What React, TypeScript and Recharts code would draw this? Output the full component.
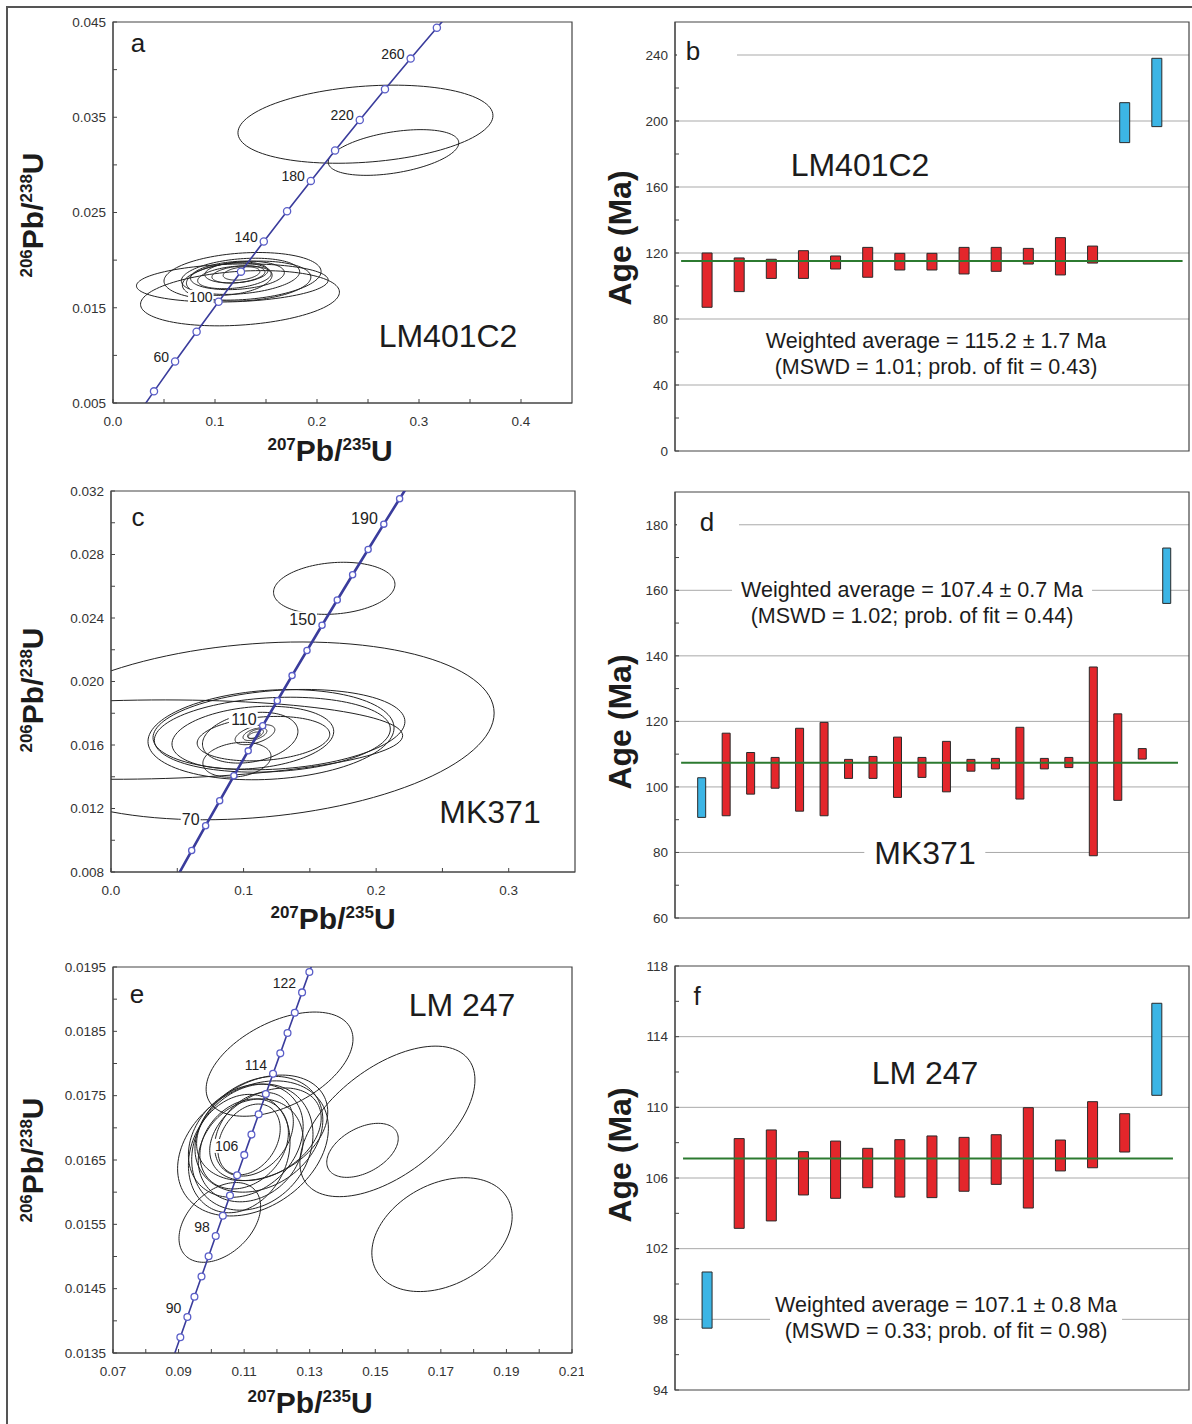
import React from "react";
import {
  Bar,
  CartesianGrid,
  Cell,
  ComposedChart,
  Line,
  ReferenceArea,
  ReferenceLine,
  Scatter,
  XAxis,
  YAxis,
} from "recharts";

const FONT = "Arial, 'Liberation Sans', Helvetica, sans-serif";
const RED = "#e3262b";
const BLUE = "#3cb5e5";
const CONCORDIA = "#3a3c9c";

// ---------- a: LM401C2 concordia (ages in Ma, ratios along the curve) ----------
const A_AGES = [20, 40, 60, 80, 100, 120, 140, 160, 180, 200, 220, 240, 260, 280, 300];
const A_X = [0.019892, 0.04018, 0.060872, 0.081975, 0.103498, 0.125449, 0.147837, 0.17067, 0.193957, 0.217708, 0.24193, 0.266636, 0.291832, 0.317529, 0.343738];
const A_Y = [0.0031073, 0.0062243, 0.009351, 0.012487, 0.015633, 0.018789, 0.021955, 0.025131, 0.028316, 0.031511, 0.034717, 0.037932, 0.041157, 0.044392, 0.047637];
const A_LABELLED = [60, 100, 140, 180, 220, 260];
const A_X_TICKS = [0, 0.05, 0.1, 0.15, 0.2, 0.25, 0.3, 0.35, 0.4];
const A_X_LABELS = [0, 0.1, 0.2, 0.3, 0.4];
const A_Y_TICKS = [0.005, 0.01, 0.015, 0.02, 0.025, 0.03, 0.035, 0.04, 0.045];
const A_Y_LABELS = [0.005, 0.015, 0.025, 0.035, 0.045];
// [x, y, half-width x, half-height y, rho]
const A_ELLIPSES: number[][] = [
  [0.2475, 0.03427, 0.125, 0.0041, 0.22],
  [0.275, 0.0313, 0.064, 0.0024, 0.42],
  [0.1245, 0.016, 0.0975, 0.0029, 0.22],
  [0.127, 0.0183, 0.077, 0.0025, 0.2],
  [0.117, 0.0176, 0.094, 0.002, 0.15],
  [0.125, 0.0183, 0.058, 0.0019, 0.25],
  [0.122, 0.0184, 0.046, 0.0015, 0.2],
  [0.119, 0.0182, 0.036, 0.0012, 0.3],
  [0.123, 0.0185, 0.026, 0.0009, 0.3],
  [0.126, 0.0186, 0.018, 0.0007, 0.3],
  [0.114, 0.018, 0.042, 0.0017, 0.25],
  [0.131, 0.0178, 0.063, 0.0021, 0.2],
  [0.121, 0.0187, 0.031, 0.0011, 0.2],
];

// ---------- b: LM401C2 ages ----------
const B_LOW = [87.1, 96.6, 104.6, 104.6, 110.3, 105.3, 109.7, 109.7, 107.3, 108.9, 113.3, 106.7, 113.9, 186.9, 196.6];
const B_HIGH = [120.0, 117.0, 116.2, 121.4, 118.2, 123.4, 119.8, 119.8, 123.4, 123.4, 122.8, 129.3, 124.2, 211.1, 238.0];
const B_REJECTED = [false, false, false, false, false, false, false, false, false, false, false, false, false, true, true];
const B_MEAN = 115.2;
const B_TICKS = [0, 20, 40, 60, 80, 100, 120, 140, 160, 180, 200, 220, 240];
const B_LABELS = [0, 40, 80, 120, 160, 200, 240];

// ---------- c: MK371 concordia ----------
const C_AGES = [50, 60, 70, 80, 90, 100, 110, 120, 130, 140, 150, 160, 170, 180, 190, 200, 210];
const C_X = [0.050475, 0.060872, 0.071371, 0.081975, 0.092683, 0.103498, 0.114419, 0.125449, 0.136588, 0.147837, 0.159197, 0.17067, 0.182256, 0.193957, 0.205774, 0.217708, 0.229759];
const C_Y = [0.0077864, 0.009351, 0.010918, 0.012487, 0.014059, 0.015633, 0.01721, 0.018789, 0.020371, 0.021955, 0.023542, 0.025131, 0.026722, 0.028316, 0.029912, 0.031511, 0.033112];
const C_LABELLED = [70, 110, 150, 190];
const C_X_TICKS = [0, 0.05, 0.1, 0.15, 0.2, 0.25, 0.3];
const C_X_LABELS = [0, 0.1, 0.2, 0.3];
const C_Y_TICKS = [0.008, 0.01, 0.012, 0.014, 0.016, 0.018, 0.02, 0.022, 0.024, 0.026, 0.028, 0.03, 0.032];
const C_Y_LABELS = [0.008, 0.012, 0.016, 0.02, 0.024, 0.028, 0.032];
const C_ELLIPSES: number[][] = [
  [0.1684, 0.02587, 0.0458, 0.00164, 0.15],
  [0.107, 0.01689, 0.182, 0.0056, 0.2],
  [0.02, 0.01634, 0.2, 0.0025, 0.1],
  [0.1207, 0.01665, 0.0928, 0.00284, 0.15],
  [0.1267, 0.01697, 0.095, 0.00253, 0.2],
  [0.1217, 0.01665, 0.089, 0.00236, 0.15],
  [0.107, 0.01646, 0.061, 0.00198, 0.2],
  [0.105, 0.01646, 0.036, 0.0016, 0.25],
  [0.095, 0.01507, 0.0257, 0.0011, 0.2],
  [0.115, 0.0164, 0.05, 0.0014, 0.2],
  [0.1086, 0.01665, 0.015, 0.00063, 0.5],
  [0.1086, 0.01668, 0.009, 0.0004, 0.5],
  [0.109, 0.0167, 0.006, 0.0003, 0.5],
  [0.108, 0.01662, 0.0045, 0.0002, 0.5],
];

// ---------- d: MK371 ages ----------
const D_LOW = [90.7, 91.2, 97.8, 99.6, 92.6, 91.2, 102.6, 102.6, 96.8, 102.9, 98.5, 104.8, 105.5, 96.3, 105.5, 105.9, 79.0, 95.9, 108.5, 156.0];
const D_HIGH = [102.8, 116.4, 110.5, 109.0, 117.9, 119.7, 108.4, 109.3, 115.2, 109.0, 113.9, 108.4, 108.7, 118.2, 108.7, 109.0, 136.6, 122.3, 111.7, 172.9];
const D_REJECTED = [true, false, false, false, false, false, false, false, false, false, false, false, false, false, false, false, false, false, false, true];
const D_MEAN = 107.4;
const D_TICKS = [60, 70, 80, 90, 100, 110, 120, 130, 140, 150, 160, 170, 180];
const D_LABELS = [60, 80, 100, 120, 140, 160, 180];

// ---------- e: LM 247 concordia ----------
const E_AGES = [86, 88, 90, 92, 94, 96, 98, 100, 102, 104, 106, 108, 110, 112, 114, 116, 118, 120, 122, 124, 126];
const E_X = [0.0883873, 0.0905332, 0.0926834, 0.0948377, 0.0969963, 0.0991592, 0.1013264, 0.1034978, 0.1056735, 0.1078535, 0.1100377, 0.1122263, 0.1144192, 0.1166164, 0.118818, 0.1210239, 0.1232341, 0.1254487, 0.1276677, 0.129891, 0.1321188];
const E_Y = [0.0134301, 0.0137446, 0.0140591, 0.0143738, 0.0146886, 0.0150034, 0.0153184, 0.0156334, 0.0159486, 0.0162638, 0.0165792, 0.0168946, 0.0172102, 0.0175258, 0.0178415, 0.0181574, 0.0184733, 0.0187894, 0.0191055, 0.0194217, 0.019738];
const E_LABELLED = [90, 98, 106, 114, 122];
const E_X_TICKS = [0.07, 0.08, 0.09, 0.1, 0.11, 0.12, 0.13, 0.14, 0.15, 0.16, 0.17, 0.18, 0.19, 0.2, 0.21];
const E_X_LABELS = [0.07, 0.09, 0.11, 0.13, 0.15, 0.17, 0.19, 0.21];
const E_Y_TICKS = [0.0135, 0.014, 0.0145, 0.015, 0.0155, 0.016, 0.0165, 0.017, 0.0175, 0.018, 0.0185, 0.019, 0.0195];
const E_Y_LABELS = [0.0135, 0.0145, 0.0155, 0.0165, 0.0175, 0.0185, 0.0195];
const E_ELLIPSES: number[][] = [
  [0.1537, 0.0171, 0.0267, 0.00117, 0.55],
  [0.17035, 0.01534, 0.0214, 0.000885, 0.32],
  [0.1461, 0.01665, 0.0109, 0.00042, 0.44],
  [0.1208, 0.01799, 0.0224, 0.00081, 0.48],
  [0.10258, 0.01553, 0.01245, 0.00062, 0.4],
  [0.1127, 0.01668, 0.023, 0.00105, 0.3],
  [0.1145, 0.0169, 0.0195, 0.0009, 0.25],
  [0.1105, 0.0168, 0.0175, 0.00088, 0.25],
  [0.1155, 0.017, 0.02, 0.00082, 0.3],
  [0.112, 0.01665, 0.016, 0.0008, 0.2],
  [0.11, 0.01675, 0.0135, 0.0007, 0.25],
  [0.113, 0.0169, 0.012, 0.00065, 0.3],
  [0.1115, 0.01682, 0.0095, 0.00055, 0.3],
  [0.1125, 0.0167, 0.0185, 0.00098, 0.2],
  [0.1165, 0.0169, 0.017, 0.00072, 0.35],
  [0.1085, 0.0166, 0.0155, 0.00092, 0.2],
];

// ---------- f: LM 247 ages ----------
const F_LOW = [97.5, 103.15, 103.57, 105.04, 104.85, 105.45, 104.92, 104.89, 105.25, 105.64, 104.3, 106.4, 106.58, 107.47, 110.68];
const F_HIGH = [100.68, 108.23, 108.72, 107.49, 108.09, 107.68, 108.17, 108.38, 108.3, 108.45, 109.98, 108.15, 110.32, 109.64, 115.89];
const F_REJECTED = [true, false, false, false, false, false, false, false, false, false, false, false, false, false, true];
const F_MEAN = 107.1;
const F_TICKS = [94, 96, 98, 100, 102, 104, 106, 108, 110, 112, 114, 116, 118];
const F_LABELS = [94, 98, 102, 106, 110, 114, 118];

type Plot = { left: number; top: number; width: number; height: number };

// outline of an error ellipse from its half-widths and correlation
function ellipsePoints(e: number[]) {
  const [cx, cy, sx, sy, rho] = e;
  const k = Math.sqrt(1 - rho * rho);
  const pts = [];
  for (let i = 0; i <= 120; i++) {
    const t = (i / 120) * Math.PI * 2;
    pts.push({ x: cx + sx * Math.cos(t), y: cy + sy * (rho * Math.cos(t) + k * Math.sin(t)) });
  }
  return pts;
}

const labelFmt = (list: number[], digits: number) => (v: number) =>
  list.some((l) => Math.abs(l - v) < 1e-9) ? v.toFixed(digits) : "";

const TICK = { fontSize: 13.5, fill: "#333", fontFamily: FONT };

function ConcordiaPanel(p: {
  plot: Plot;
  xDomain: number[];
  yDomain: number[];
  xTicks: number[];
  xLabels: number[];
  xDigits: number;
  yTicks: number[];
  yLabels: number[];
  yDigits: number;
  ages: number[];
  xs: number[];
  ys: number[];
  labelled: number[];
  ellipses: number[][];
  lineWidth: number;
  dotR: number;
  labelSize: number;
  labelDy: number;
}) {
  const YW = 80, MT = 12, MR = 12, XH = 40;
  const [x0, x1] = p.xDomain;
  const [y0, y1] = p.yDomain;
  const curve = p.ages.map((age, i) => ({ age, x: p.xs[i], y: p.ys[i] }));
  const marks = curve.filter((d) => p.labelled.includes(d.age));

  const dot = (d: any) => {
    const inside = d.payload.y >= y0 && d.payload.y <= y1;
    if (!inside) return <g key={`m${d.index}`} />;
    return <circle key={`m${d.index}`} cx={d.cx} cy={d.cy} r={p.dotR} fill="#fff" stroke="#5a5ec8" strokeWidth={1.3} />;
  };

  const ageLabel = (d: any) => {
    const txt = String(d.payload.age);
    const w = txt.length * p.labelSize * 0.56;
    const ex = d.cx - 6;
    const cy = d.cy + p.labelDy;
    return (
      <g>
        <rect x={ex - w - 1} y={cy - p.labelSize * 0.5} width={w + 2} height={p.labelSize} fill="#fff" />
        <text x={ex} y={cy} textAnchor="end" dominantBaseline="central" fontSize={p.labelSize} fontFamily={FONT} fill="#222">
          {txt}
        </text>
      </g>
    );
  };

  return (
    <div style={{ position: "absolute", left: p.plot.left - YW, top: p.plot.top - MT }}>
      <ComposedChart
        width={YW + p.plot.width + MR}
        height={MT + p.plot.height + XH}
        margin={{ top: MT, right: MR, left: 0, bottom: 0 }}
      >
        <XAxis
          type="number"
          dataKey="x"
          domain={p.xDomain}
          allowDataOverflow
          ticks={p.xTicks}
          interval={0}
          tickFormatter={labelFmt(p.xLabels, p.xDigits)}
          tickSize={-4}
          tickMargin={17}
          height={XH}
          tick={TICK}
          axisLine={{ stroke: "#444" }}
          tickLine={{ stroke: "#444" }}
        />
        <YAxis
          type="number"
          dataKey="y"
          domain={p.yDomain}
          allowDataOverflow
          ticks={p.yTicks}
          interval={0}
          tickFormatter={labelFmt(p.yLabels, p.yDigits)}
          tickSize={-4}
          tickMargin={11}
          width={YW}
          tick={TICK}
          axisLine={{ stroke: "#444" }}
          tickLine={{ stroke: "#444" }}
        />
        <ReferenceArea x1={x0} x2={x1} y1={y0} y2={y1} fill="none" stroke="#444" strokeWidth={1.2} />
        {p.ellipses.map((e, i) => (
          <Line
            key={`e${i}`}
            data={ellipsePoints(e)}
            dataKey="y"
            type="linear"
            dot={false}
            activeDot={false}
            stroke="#222"
            strokeWidth={1}
            isAnimationActive={false}
          />
        ))}
        <Line
          data={curve}
          dataKey="y"
          type="linear"
          dot={dot}
          activeDot={false}
          stroke={CONCORDIA}
          strokeWidth={p.lineWidth}
          isAnimationActive={false}
        />
        <Scatter data={marks} shape={ageLabel} isAnimationActive={false} />
      </ComposedChart>
    </div>
  );
}

function AgePanel(p: {
  plot: Plot;
  xDomain: number[];
  yDomain: number[];
  ticks: number[];
  labels: number[];
  low: number[];
  high: number[];
  rejected: boolean[];
  mean: number;
  meanFrom: number;
  meanTo: number;
  barSize: number;
}) {
  const YW = 80, MT = 12, MR = 12, MB = 12;
  const rows = p.low.map((lo, i) => ({ x: i + 1, range: [lo, p.high[i]], rejected: p.rejected[i] }));
  const [y0, y1] = p.yDomain;
  const grid = p.labels.filter((v) => v > y0 && v < y1);
  // grid only at the labelled values, placed with the axis scale when available
  const gridGen = (g: any) => {
    const s = g?.yAxis?.scale;
    const viaScale = grid.map((v) => {
      if (typeof s === "function") return s(v);
      if (s && typeof s.map === "function") return s.map(v);
      return NaN;
    });
    if (viaScale.every((n) => Number.isFinite(n))) return viaScale;
    const top = g.offset.top;
    const h = g.offset.height;
    return grid.map((v) => top + h * (1 - (v - y0) / (y1 - y0)));
  };

  return (
    <div style={{ position: "absolute", left: p.plot.left - YW, top: p.plot.top - MT }}>
      <ComposedChart
        width={YW + p.plot.width + MR}
        height={MT + p.plot.height + MB}
        data={rows}
        margin={{ top: MT, right: MR, left: 0, bottom: MB }}
      >
        <CartesianGrid
          vertical={false}
          horizontalValues={grid}
          horizontalCoordinatesGenerator={gridGen}
          stroke="#a9a9a9"
          strokeWidth={1}
        />
        <XAxis type="number" dataKey="x" domain={p.xDomain} allowDataOverflow hide />
        <YAxis
          type="number"
          domain={p.yDomain}
          allowDataOverflow
          ticks={p.ticks}
          interval={0}
          tickFormatter={labelFmt(p.labels, 0)}
          tickSize={-4}
          tickMargin={11}
          width={YW}
          tick={TICK}
          axisLine={{ stroke: "#444" }}
          tickLine={{ stroke: "#444" }}
        />
        <ReferenceArea x1={p.xDomain[0]} x2={p.xDomain[1]} y1={y0} y2={y1} fill="none" stroke="#444" strokeWidth={1.2} />
        <Bar dataKey="range" barSize={p.barSize} stroke="#2a2a2a" strokeWidth={1} isAnimationActive={false}>
          {rows.map((r, i) => (
            <Cell key={i} fill={r.rejected ? BLUE : RED} />
          ))}
        </Bar>
        <ReferenceLine
          segment={[
            { x: p.meanFrom, y: p.mean },
            { x: p.meanTo, y: p.mean },
          ]}
          stroke="#2c7a30"
          strokeWidth={2}
        />
      </ComposedChart>
    </div>
  );
}

function Txt(p: {
  x: number;
  y: number;
  size: number;
  bold?: boolean;
  bg?: boolean;
  padX?: number;
  rotate?: boolean;
  lineHeight?: number;
  children: React.ReactNode;
}) {
  return (
    <div
      style={{
        position: "absolute",
        left: p.x,
        top: p.y,
        transform: `translate(-50%, -50%)${p.rotate ? " rotate(-90deg)" : ""}`,
        fontSize: p.size,
        fontWeight: p.bold ? 700 : 400,
        fontFamily: FONT,
        color: "#1c1c1c",
        background: p.bg ? "#fff" : "transparent",
        padding: `0 ${p.padX ?? 0}px`,
        whiteSpace: "nowrap",
        textAlign: "center",
        lineHeight: p.lineHeight ? `${p.lineHeight}px` : 1.15,
      }}
    >
      {p.children}
    </div>
  );
}

const Sup = ({ children }: { children: React.ReactNode }) => (
  <span style={{ fontSize: 17, position: "relative", top: -11 }}>{children}</span>
);

const Ratio = ({ a, b }: { a: string; b: string }) => (
  <>
    <Sup>{a}</Sup>Pb/<Sup>{b}</Sup>U
  </>
);

const Cover = ({ left, top, width, height }: Plot) => (
  <div style={{ position: "absolute", left, top, width, height, background: "#fff" }} />
);

export default function App() {
  return (
    <div style={{ position: "absolute", left: 0, top: 0, width: 1192, height: 1424, overflow: "hidden", background: "#fff" }}>
      <div
        style={{
          position: "absolute",
          left: 6,
          top: 6,
          width: 1186,
          height: 1418,
          boxSizing: "border-box",
          borderLeft: "2px solid #555",
          borderTop: "2px solid #555",
        }}
      />

      <ConcordiaPanel
        plot={{ left: 113, top: 22, width: 459, height: 381 }}
        xDomain={[0, 0.45]}
        yDomain={[0.005, 0.045]}
        xTicks={A_X_TICKS}
        xLabels={A_X_LABELS}
        xDigits={1}
        yTicks={A_Y_TICKS}
        yLabels={A_Y_LABELS}
        yDigits={3}
        ages={A_AGES}
        xs={A_X}
        ys={A_Y}
        labelled={A_LABELLED}
        ellipses={A_ELLIPSES}
        lineWidth={1.6}
        dotR={3.6}
        labelSize={14}
        labelDy={-5}
      />
      <AgePanel
        plot={{ left: 675, top: 22, width: 514, height: 429 }}
        xDomain={[0, 16]}
        yDomain={[0, 260]}
        ticks={B_TICKS}
        labels={B_LABELS}
        low={B_LOW}
        high={B_HIGH}
        rejected={B_REJECTED}
        mean={B_MEAN}
        meanFrom={0.19}
        meanTo={15.8}
        barSize={10}
      />
      <ConcordiaPanel
        plot={{ left: 111, top: 491, width: 464, height: 381 }}
        xDomain={[0, 0.35]}
        yDomain={[0.008, 0.032]}
        xTicks={C_X_TICKS}
        xLabels={C_X_LABELS}
        xDigits={1}
        yTicks={C_Y_TICKS}
        yLabels={C_Y_LABELS}
        yDigits={3}
        ages={C_AGES}
        xs={C_X}
        ys={C_Y}
        labelled={C_LABELLED}
        ellipses={C_ELLIPSES}
        lineWidth={2.6}
        dotR={3.1}
        labelSize={16}
        labelDy={-6}
      />
      <AgePanel
        plot={{ left: 675, top: 492, width: 514, height: 426 }}
        xDomain={[-0.1, 20.9]}
        yDomain={[60, 190]}
        ticks={D_TICKS}
        labels={D_LABELS}
        low={D_LOW}
        high={D_HIGH}
        rejected={D_REJECTED}
        mean={D_MEAN}
        meanFrom={0.15}
        meanTo={20.45}
        barSize={8}
      />
      <ConcordiaPanel
        plot={{ left: 113, top: 967, width: 459, height: 386 }}
        xDomain={[0.07, 0.21]}
        yDomain={[0.0135, 0.0195]}
        xTicks={E_X_TICKS}
        xLabels={E_X_LABELS}
        xDigits={2}
        yTicks={E_Y_TICKS}
        yLabels={E_Y_LABELS}
        yDigits={4}
        ages={E_AGES}
        xs={E_X}
        ys={E_Y}
        labelled={E_LABELLED}
        ellipses={E_ELLIPSES}
        lineWidth={1.6}
        dotR={3.4}
        labelSize={14}
        labelDy={-9}
      />
      <AgePanel
        plot={{ left: 675, top: 966, width: 514, height: 424 }}
        xDomain={[0, 16]}
        yDomain={[94, 118]}
        ticks={F_TICKS}
        labels={F_LABELS}
        low={F_LOW}
        high={F_HIGH}
        rejected={F_REJECTED}
        mean={F_MEAN}
        meanFrom={0.25}
        meanTo={15.5}
        barSize={10}
      />

      {/* panel a */}
      <Txt x={138} y={44} size={26}>a</Txt>
      <Txt x={448} y={336} size={32}>LM401C2</Txt>
      <Txt x={33} y={215} size={30} bold rotate><Ratio a="206" b="238" /></Txt>
      <Txt x={330} y={451} size={30} bold><Ratio a="207" b="235" /></Txt>

      {/* panel b */}
      <Cover left={677} top={44} width={60} height={24} />
      <Txt x={693} y={52} size={26}>b</Txt>
      <Txt x={860} y={165} size={32}>LM401C2</Txt>
      <Txt x={936} y={354} size={21.5} lineHeight={26}>
        Weighted average = 115.2 ± 1.7 Ma
        <br />
        (MSWD = 1.01; prob. of fit = 0.43)
      </Txt>
      <Txt x={620} y={238} size={32} bold rotate>Age (Ma)</Txt>

      {/* panel c */}
      <Txt x={138} y={518} size={26}>c</Txt>
      <Txt x={490} y={812} size={32}>MK371</Txt>
      <Txt x={33} y={690} size={30} bold rotate><Ratio a="206" b="238" /></Txt>
      <Txt x={333} y={919} size={30} bold><Ratio a="207" b="235" /></Txt>

      {/* panel d */}
      <Cover left={677} top={512} width={62} height={24} />
      <Txt x={707} y={523} size={26}>d</Txt>
      <Txt x={912} y={603} size={21.5} bg padX={9} lineHeight={26}>
        Weighted average = 107.4 ± 0.7 Ma
        <br />
        (MSWD = 1.02; prob. of fit = 0.44)
      </Txt>
      <Txt x={925} y={853} size={32} bg padX={10}>MK371</Txt>
      <Txt x={620} y={722} size={32} bold rotate>Age (Ma)</Txt>

      {/* panel e */}
      <Txt x={137} y={995} size={26}>e</Txt>
      <Txt x={462} y={1005} size={32}>LM 247</Txt>
      <Txt x={33} y={1160} size={30} bold rotate><Ratio a="206" b="238" /></Txt>
      <Txt x={310} y={1403} size={30} bold><Ratio a="207" b="235" /></Txt>

      {/* panel f */}
      <Txt x={697} y={997} size={26}>f</Txt>
      <Txt x={925} y={1073} size={32}>LM 247</Txt>
      <Txt x={946} y={1318} size={21.5} bg padX={5} lineHeight={26}>
        Weighted average = 107.1 ± 0.8 Ma
        <br />
        (MSWD = 0.33; prob. of fit = 0.98)
      </Txt>
      <Txt x={620} y={1155} size={32} bold rotate>Age (Ma)</Txt>
    </div>
  );
}
